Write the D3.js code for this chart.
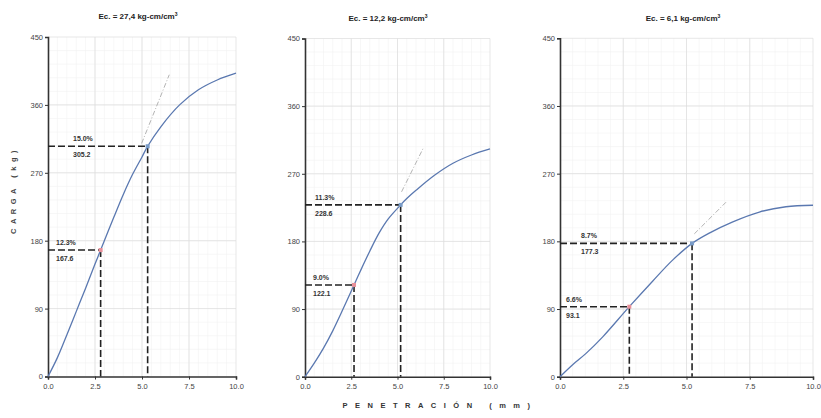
<!DOCTYPE html>
<html>
<head>
<meta charset="utf-8">
<script src="https://cdn.jsdelivr.net/npm/d3@7"></script>
<style>
  body { margin: 0; background: #fff; }
  svg { font-family: "Liberation Sans", Arial, sans-serif; }
</style>
</head>
<body>
<div class="chart"></div>
<script>
// data
var titles = ['Ec. = 27,4 kg-cm/cm', 'Ec. = 12,2 kg-cm/cm', 'Ec. = 6,1 kg-cm/cm'];
var xTicks = [0, 2.5, 5, 7.5, 10];
var yTicks = [0, 90, 180, 270, 360, 450];

var curve1 = [[0, 0], [0.5, 25], [1.0, 55], [1.5, 86], [2.0, 117], [2.5, 149], [2.8, 167.6],
  [3.5, 211], [4.0, 241], [4.5, 268], [5.0, 291], [5.3, 305.2], [6.0, 331], [7.0, 360],
  [8.0, 380], [9.0, 393], [10, 402]];
var curve2 = [[0, 0], [0.5, 18], [1.0, 38], [1.5, 61], [2.0, 87], [2.65, 122.1], [3.0, 141],
  [3.5, 167], [4.0, 191], [4.5, 210], [5.17, 228.6], [5.5, 237], [6.0, 248], [7.0, 268],
  [8.0, 284], [9.0, 295], [10, 303]];
var curve3 = [[0, 0], [0.5, 16], [1.03, 31], [1.69, 53], [2.74, 93.1], [3.66, 127], [4.45, 155],
  [5.22, 177.3], [5.9, 191], [6.83, 206], [7.88, 219], [8.93, 226], [10, 228]];

var tangent1 = [[4.98, 309], [6.45, 400]];
var tangent2 = [[5.22, 246], [6.41, 305]];
var tangent3 = [[5.31, 190], [6.56, 232]];

var points1 = [[2.8, 167.6], [5.3, 305.2]];
var points2 = [[2.65, 122.1], [5.17, 228.6]];
var points3 = [[2.74, 93.1], [5.22, 177.3]];

var pctLabels1 = ['12.3%', '15.0%'];
var pctLabels2 = ['9.0%', '11.3%'];
var pctLabels3 = ['6.6%', '8.7%'];

// layout of the three panels (pixels)
var boxes = [
  {left: 48, right: 236, top: 37, bottom: 376.5, titleX: 138, titleY: 19, labelDx: [8, 25]},
  {left: 305, right: 490, top: 38.5, bottom: 376.7, titleX: 388, titleY: 21, labelDx: [8, 10]},
  {left: 560, right: 813, top: 38.3, bottom: 376.7, titleX: 683, titleY: 21, labelDx: [6, 21]}
];

var curves = [curve1, curve2, curve3];
var tangents = [tangent1, tangent2, tangent3];
var points = [points1, points2, points3];
var pctLabels = [pctLabels1, pctLabels2, pctLabels3];

var svg = d3.select('.chart').append('svg').attr('width', 821).attr('height', 418);

boxes.forEach(function (b, i) {
  var x = d3.scaleLinear().domain([0, 10]).range([b.left, b.right]);
  var y = d3.scaleLinear().domain([0, 450]).range([b.bottom, b.top]);
  var g = svg.append('g');

  // faint minor grid
  g.selectAll('.minx').data(d3.range(0.5, 10, 0.5)).enter().append('line')
    .attr('x1', function (d) { return x(d); }).attr('x2', function (d) { return x(d); })
    .attr('y1', y(0)).attr('y2', y(450))
    .attr('stroke', '#f2f2f2').attr('stroke-width', 0.6);
  g.selectAll('.miny').data(d3.range(18, 450, 18)).enter().append('line')
    .attr('y1', function (d) { return y(d); }).attr('y2', function (d) { return y(d); })
    .attr('x1', x(0)).attr('x2', x(10))
    .attr('stroke', '#f2f2f2').attr('stroke-width', 0.6);

  // major grid
  g.selectAll('.gx').data(xTicks.slice(1)).enter().append('line')
    .attr('x1', function (d) { return x(d); }).attr('x2', function (d) { return x(d); })
    .attr('y1', y(0)).attr('y2', y(450))
    .attr('stroke', '#dcdcdc').attr('stroke-width', 0.7);
  g.selectAll('.gy').data(yTicks.slice(1)).enter().append('line')
    .attr('y1', function (d) { return y(d); }).attr('y2', function (d) { return y(d); })
    .attr('x1', x(0)).attr('x2', x(10))
    .attr('stroke', '#dcdcdc').attr('stroke-width', 0.7);

  // axes
  var yAxis = g.append('g').attr('transform', 'translate(' + b.left + ',0)')
    .call(d3.axisLeft(y).tickValues(yTicks).tickSize(3).tickFormat(d3.format('d')));
  var xAxis = g.append('g').attr('transform', 'translate(0,' + b.bottom + ')')
    .call(d3.axisBottom(x).tickValues(xTicks).tickSize(3).tickFormat(d3.format('.1f')));
  [yAxis, xAxis].forEach(function (a) {
    a.select('.domain').attr('stroke', '#333').attr('stroke-width', 1.6);
    a.selectAll('.tick line').attr('stroke', '#333').attr('stroke-width', 1);
    a.selectAll('.tick text').attr('fill', '#444').style('font-size', '7.5px');
  });
  yAxis.selectAll('.tick text').attr('x', -5);
  xAxis.selectAll('.tick text').attr('y', 7);

  // tangent
  g.append('path').datum(tangents[i])
    .attr('d', d3.line().x(function (d) { return x(d[0]); }).y(function (d) { return y(d[1]); }))
    .attr('stroke', '#aaa').attr('stroke-width', 0.9).attr('stroke-dasharray', '5,2,1,2')
    .attr('fill', 'none');

  // dashed reference lines
  points[i].forEach(function (p, k) {
    g.append('line').attr('x1', x(0)).attr('x2', x(p[0])).attr('y1', y(p[1])).attr('y2', y(p[1]))
      .attr('stroke', '#222').attr('stroke-width', 1.6).attr('stroke-dasharray', '7,3');
    g.append('line').attr('x1', x(p[0])).attr('x2', x(p[0])).attr('y1', y(p[1])).attr('y2', y(0))
      .attr('stroke', '#222').attr('stroke-width', 1.6).attr('stroke-dasharray', '7,3');
    g.append('text').attr('x', x(0) + b.labelDx[k]).attr('y', y(p[1]) - 5)
      .attr('fill', '#333').style('font-size', '7px').style('font-weight', 'bold')
      .text(pctLabels[i][k]);
    g.append('text').attr('x', x(0) + b.labelDx[k]).attr('y', y(p[1]) + 11)
      .attr('fill', '#333').style('font-size', '7px').style('font-weight', 'bold')
      .text(p[1].toFixed(1));
  });

  // curve
  g.append('path').datum(curves[i])
    .attr('d', d3.line().curve(d3.curveCatmullRom.alpha(0.5))
      .x(function (d) { return x(d[0]); }).y(function (d) { return y(d[1]); }))
    .attr('stroke', '#5a78b0').attr('stroke-width', 1.3).attr('fill', 'none');

  // markers
  g.selectAll('.pt').data(points[i]).enter().append('rect')
    .attr('x', function (d) { return x(d[0]) - 2; })
    .attr('y', function (d) { return y(d[1]) - 2; })
    .attr('width', 4).attr('height', 4)
    .attr('fill', function (d, k) { return k === 0 ? '#e8909a' : '#7a9cc8'; });

  // title
  var t = svg.append('text').attr('x', b.titleX).attr('y', b.titleY)
    .attr('text-anchor', 'middle').attr('fill', '#222')
    .style('font-size', '8px').style('font-weight', 'bold');
  t.append('tspan').text(titles[i]);
  t.append('tspan').attr('dy', -3).style('font-size', '5px').text('3');
});

// axis titles
svg.append('text').attr('transform', 'translate(16,190) rotate(-90)')
  .attr('text-anchor', 'middle').attr('fill', '#444')
  .style('font-size', '7.5px').style('font-weight', 'bold').style('letter-spacing', '4.5px')
  .text('CARGA  (kg)');

svg.append('text').attr('x', 440).attr('y', 408)
  .attr('text-anchor', 'middle').attr('fill', '#333')
  .style('font-size', '7.5px').style('font-weight', 'bold').style('letter-spacing', '7.5px')
  .text('PENETRACIÓN  (mm)');
</script>
</body>
</html>
